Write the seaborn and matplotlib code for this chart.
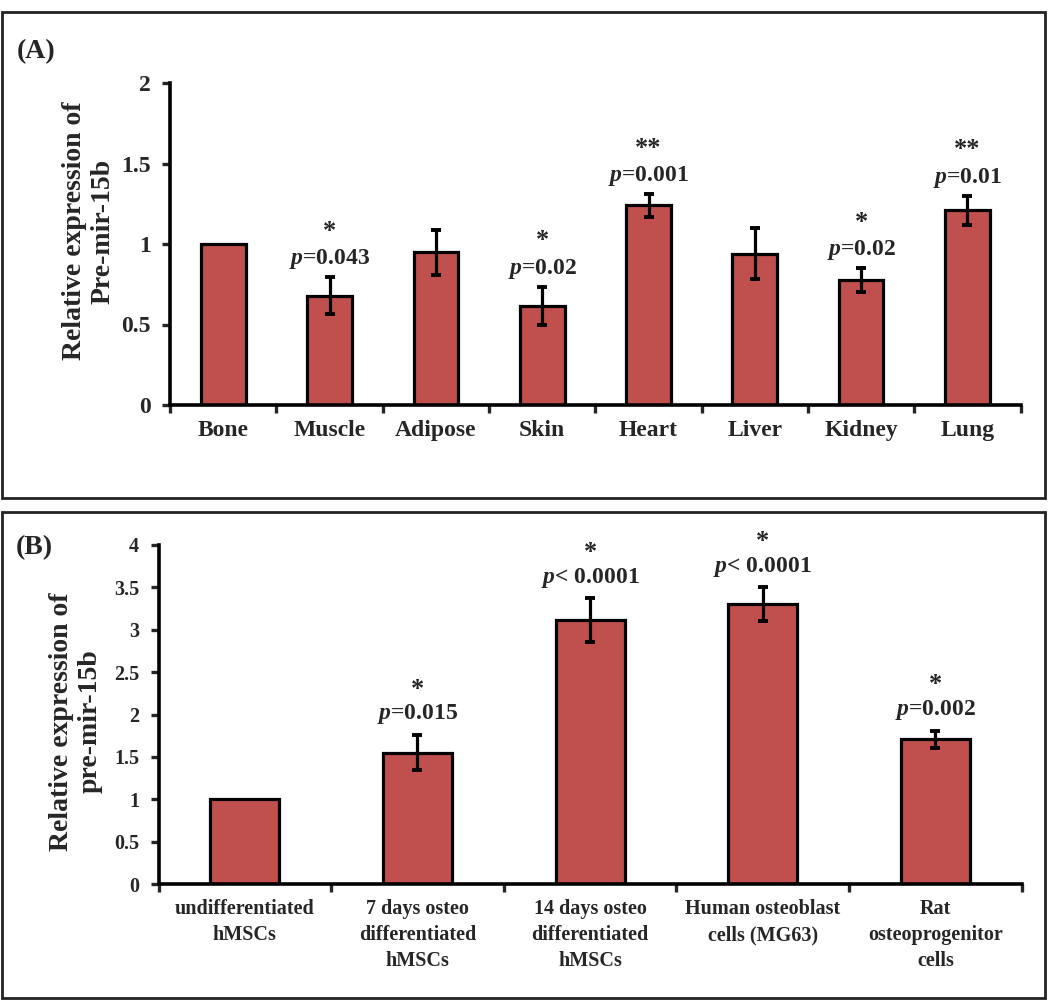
import numpy as np
import pandas as pd
import seaborn as sns
import matplotlib.pyplot as plt
from matplotlib.patches import Rectangle

#region 1. Data
tissues = ['Bone', 'Muscle', 'Adipose', 'Skin', 'Heart', 'Liver', 'Kidney', 'Lung']
tissue_expr = [1.0, 0.68, 0.95, 0.615, 1.24, 0.94, 0.775, 1.21]
tissue_err = [0.0, 0.115, 0.14, 0.12, 0.07, 0.16, 0.075, 0.09]
tissue_stars = ['', '*', '', '*', '**', '', '*', '**']
tissue_pvals = ['', '=0.043', '', '=0.02', '=0.001', '', '=0.02', '=0.01']

cells = ['undifferentiated\nhMSCs', '7 days osteo\ndifferentiated\nhMSCs',
         '14 days osteo\ndifferentiated\nhMSCs', 'Human osteoblast\ncells (MG63)',
         'Rat\nosteoprogenitor\ncells']
cell_expr = [1.0, 1.55, 3.11, 3.30, 1.71]
cell_err = [0.0, 0.21, 0.26, 0.20, 0.10]
cell_stars = ['', '*', '*', '*', '*']
cell_pvals = ['', '=0.015', '< 0.0001', '< 0.0001', '=0.002']
#endregion

#region 2. Style
sns.set_style('white')
plt.rcParams['font.family'] = ['Liberation Serif', 'DejaVu Serif']
plt.rcParams['font.weight'] = 'bold'
plt.rcParams['mathtext.fontset'] = 'custom'
plt.rcParams['mathtext.it'] = 'Liberation Serif:italic:bold'
plt.rcParams['mathtext.rm'] = 'Liberation Serif:bold'
bar_color = '#C0504D'
#endregion


def draw_panel(ax, names, values, errs, stars, pvals, width, tick_fs, xlab_fs, xlab_ls,
               ylim, yticks, ylabel, label_y, p_off, star_off):
    df = pd.DataFrame({'group': names, 'value': values})
    sns.barplot(data=df, x='group', y='value', color=bar_color, saturation=1,
                edgecolor='black', linewidth=2.3, width=width, ax=ax)
    centers = [p.get_x() + p.get_width() / 2 for p in ax.patches]
    for xc, v, e, s, p in zip(centers, values, errs, stars, pvals):
        if e > 0:
            ax.errorbar([xc], [v], yerr=[e], fmt='none', ecolor='black',
                        elinewidth=2.3, capsize=3.5, capthick=2.8)
        if not s:
            continue
        top = v + e
        ax.annotate(r'$p$' + p, (xc, top), xytext=(0, p_off), textcoords='offset points',
                    ha='center', va='center', fontsize=17, annotation_clip=False)
        ax.annotate(s, (xc, top), xytext=(0, p_off + star_off), textcoords='offset points',
                    ha='center', va='center', fontsize=19, annotation_clip=False)
    ax.set_xlim(-0.5, len(names) - 0.5)
    ax.set_ylim(*ylim)
    ax.set_yticks(yticks)
    ax.set_yticklabels([f'{t:g}' for t in yticks], fontsize=tick_fs, fontweight='bold')
    ax.set_xticks(range(len(names)))
    ax.set_xticklabels(names, fontsize=xlab_fs, fontweight='bold', linespacing=xlab_ls)
    ax.set_xticks(np.arange(-0.5, len(names)), minor=True)
    ax.tick_params(axis='x', which='major', length=0, pad=11)
    ax.tick_params(axis='x', which='minor', length=6, width=2.4, direction='out', bottom=True)
    ax.tick_params(axis='y', length=6, width=2.4, direction='out', left=True, pad=8)
    ax.set_xlabel('')
    ax.set_ylabel(ylabel, fontsize=20, fontweight='bold', va='center', linespacing=1.2)
    ax.yaxis.set_label_coords(-0.096, label_y)
    sns.despine(ax=ax)
    for side in ['left', 'bottom']:
        ax.spines[side].set_linewidth(2.6)
        ax.spines[side].set_color('black')


#region 3. Figure
fig = plt.figure(figsize=(10.5, 10), dpi=100)
ax_a = fig.add_axes([0.162, 0.595, 0.810, 0.322])
ax_b = fig.add_axes([0.151, 0.116, 0.822, 0.339])

draw_panel(ax_a, tissues, tissue_expr, tissue_err, tissue_stars, tissue_pvals,
           0.42, 17, 17, 1.2, (0, 2), [0, 0.5, 1, 1.5, 2],
           'Relative expression of\nPre-mir-15b', 0.54, 13, 20)
draw_panel(ax_b, cells, cell_expr, cell_err, cell_stars, cell_pvals,
           0.40, 14.5, 14.5, 1.4, (0, 4), [0, 0.5, 1, 1.5, 2, 2.5, 3, 3.5, 4],
           'Relative expression of\npre-mir-15b', 0.48, 15, 18)

for y0 in [0.502, 0.002]:
    fig.add_artist(Rectangle((0.002, y0), 0.993, 0.486, transform=fig.transFigure,
                             fill=False, edgecolor='#222222', linewidth=2))
fig.text(0.034, 0.948, '(A)', fontsize=20, fontweight='bold', ha='center', va='center')
fig.text(0.033, 0.452, '(B)', fontsize=20, fontweight='bold', ha='center', va='center')

fig.savefig('out.png', dpi=100, facecolor='white')
#endregion
